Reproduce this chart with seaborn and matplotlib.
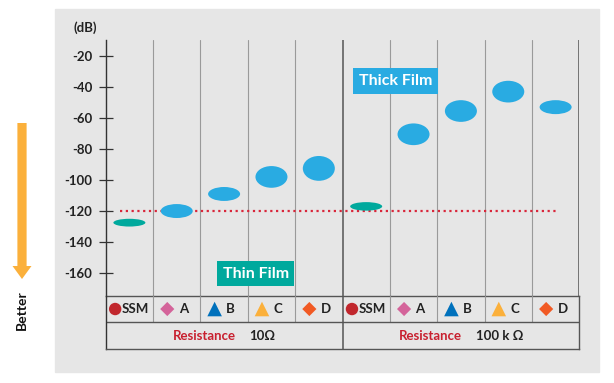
import pandas as pd
import matplotlib.pyplot as plt
import seaborn as sns
from matplotlib.patches import Ellipse, Rectangle, FancyArrow
from matplotlib.offsetbox import TextArea, HPacker, AnnotationBbox

# data
devices = ['SSM', 'A', 'B', 'C', 'D']
resistances = ['10Ω', '100 k Ω']
noise_10 = [-127.5, -120, -109, -98, -92.5]
noise_100k = [-117, -70.5, -55.5, -43, -53]
spread_10 = [5, 9, 9, 14, 16]
spread_100k = [5.5, 14, 14, 14, 9]
film = ['Thin', 'Thick', 'Thick', 'Thick', 'Thick']
yticks = [-20, -40, -60, -80, -100, -120, -140, -160]
ref_level = -120

BG = '#e6e6e6'
BLUE = '#29abe2'
TEAL = '#00a99d'
ORANGE = '#fbb03b'
RED = '#c8202f'
DARK = '#333333'
LINE = '#555555'
LIGHT = '#9a9a9a'

film_colors = {'Thin': TEAL, 'Thick': BLUE}
marker_colors = {'SSM': '#c1272d', 'A': '#d4649a', 'B': '#0071bc', 'C': ORANGE, 'D': '#f15a24'}
marker_shapes = {'SSM': 'o', 'A': 'D', 'B': '^', 'C': '^', 'D': 'D'}
marker_sizes = {'SSM': 80, 'A': 52, 'B': 110, 'C': 110, 'D': 52}

rows = []
for g, (res, vals, spr) in enumerate(zip(resistances, [noise_10, noise_100k], [spread_10, spread_100k])):
    for i, dev in enumerate(devices):
        rows.append({'resistance': res, 'device': dev, 'noise': vals[i],
                     'spread': spr[i], 'film': film[i], 'col': g * len(devices) + i})
df = pd.DataFrame(rows)
ncol = len(df)

sns.set_theme(style='white')
plt.rcParams['font.family'] = ['Lato', 'DejaVu Sans']

W, H = 614, 383
fig = plt.figure(figsize=(W / 100, H / 100), dpi=100)
fig.patch.set_facecolor('white')

# grey panel behind everything
fig.add_artist(Rectangle((55 / W, 1 - 372 / H), 544 / W, 363 / H,
                         transform=fig.transFigure, color=BG, zorder=0))

left, right, top, mid, bottom = 105.7, 579.3, 40, 295.7, 349
ax = fig.add_axes([left / W, 1 - mid / H, (right - left) / W, (mid - top) / H])
tab = fig.add_axes([left / W, 1 - bottom / H, (right - left) / W, (bottom - mid) / H])
for a in (ax, tab):
    a.set_facecolor('none')
    a.set_xlim(0, ncol)

# main plot -------------------------------------------------
ax.set_ylim(-174.6, -9.7)
ell_w = 0.676
for _, r in df.iterrows():
    ax.add_patch(Ellipse((r['col'] + 0.5, r['noise']), ell_w, r['spread'],
                         color=film_colors[r['film']], lw=0, zorder=3))

ax.hlines(ref_level, 0.3, 9.55, colors='#d9263a', lw=1.6,
          linestyles=(0, (1, 1.6)), zorder=2)

for x in range(1, ncol):
    sep = x % len(devices) == 0
    ax.axvline(x, color=LINE if sep else LIGHT, lw=1.1 if sep else 0.8, zorder=1)

ax.set_xticks([])
ax.set_yticks(yticks)
ax.set_yticklabels([str(t) for t in yticks], fontsize=9.5, color='#222222', fontweight='bold')
ax.tick_params(axis='y', direction='inout', length=10, width=0.9, color=DARK, pad=4.5, left=True)
for s in ['top', 'right']:
    ax.spines[s].set_visible(False)
ax.spines['left'].set_color(DARK)
ax.spines['left'].set_linewidth(1)
ax.spines['bottom'].set_color(LINE)
ax.spines['bottom'].set_linewidth(1)
ax.axvline(ncol, color=LINE, lw=1.1)

ax.text(6.12, -36.1, 'Thick Film', ha='center', va='center', color='white',
        fontsize=11.5, fontweight='bold',
        bbox=dict(boxstyle='square,pad=0.35', fc=BLUE, ec='none'), zorder=4)
ax.text(3.17, -160.5, 'Thin Film', ha='center', va='center', color='white',
        fontsize=11.5, fontweight='bold',
        bbox=dict(boxstyle='square,pad=0.35', fc=TEAL, ec='none'), zorder=4)

fig.text(97.3 / W, 1 - 27.3 / H, '(dB)', ha='right', va='center',
         fontsize=9.5, color='#222222', fontweight='bold')

# table below ------------------------------------------------
tab.set_ylim(0, 2)
leg = df.copy()
leg['mx'] = [c + 0.5 - 0.2 - 0.05 * (len(d) - 1) for c, d in zip(leg['col'], leg['device'])]
leg['my'] = 1.5
sns.scatterplot(data=leg, x='mx', y='my', hue='device', style='device', size='device',
                palette=marker_colors, markers=marker_shapes, sizes=marker_sizes,
                linewidth=0, legend=False, ax=tab, zorder=3)
for _, r in leg.iterrows():
    gap = 0.14 if marker_shapes[r['device']] == 'o' else 0.24
    tab.text(r['mx'] + gap, 1.5, r['device'], ha='left', va='center',
             fontsize=9.5, fontweight='bold', color='#222222')

for x in range(1, ncol):
    sep = x % len(devices) == 0
    if sep:
        tab.axvline(x, color=LINE, lw=1.1)
    else:
        tab.plot([x, x], [1, 2], color=LIGHT, lw=0.8)
tab.axhline(1, color=LINE, lw=1)

for g, res in enumerate(resistances):
    centre = (g + 0.5) * len(devices)
    box = HPacker(children=[
        TextArea('Resistance', textprops=dict(color=RED, fontsize=9.5, fontweight='bold')),
        TextArea(res, textprops=dict(color='#222222', fontsize=9.5, fontweight='bold')),
    ], sep=10, pad=0, align='center')
    tab.add_artist(AnnotationBbox(box, (centre, 0.5), xycoords='data', frameon=False,
                                  box_alignment=(0.5, 0.5), pad=0))

tab.set_xticks([])
tab.set_yticks([])
tab.set_xlabel('')
tab.set_ylabel('')
tab.set_xlim(0, ncol)
tab.set_ylim(0, 2)
tab.spines['top'].set_visible(False)
for s in ['right', 'bottom']:
    tab.spines[s].set_color(LINE)
    tab.spines[s].set_linewidth(1)
tab.spines['left'].set_color(DARK)
tab.spines['left'].set_linewidth(1)

# "Better" arrow on the left
fig.add_artist(FancyArrow(0.22, (H - 123) / 100, 0, -1.56, width=0.092,
                          head_width=0.19, head_length=0.13, length_includes_head=True,
                          color=ORANGE, lw=0, transform=fig.dpi_scale_trans))
fig.text(22 / W, 1 - 310 / H, 'Better', rotation=90, ha='center', va='center',
         fontsize=10, fontweight='bold', color='#111111')

fig.savefig('out.png', dpi=100)
